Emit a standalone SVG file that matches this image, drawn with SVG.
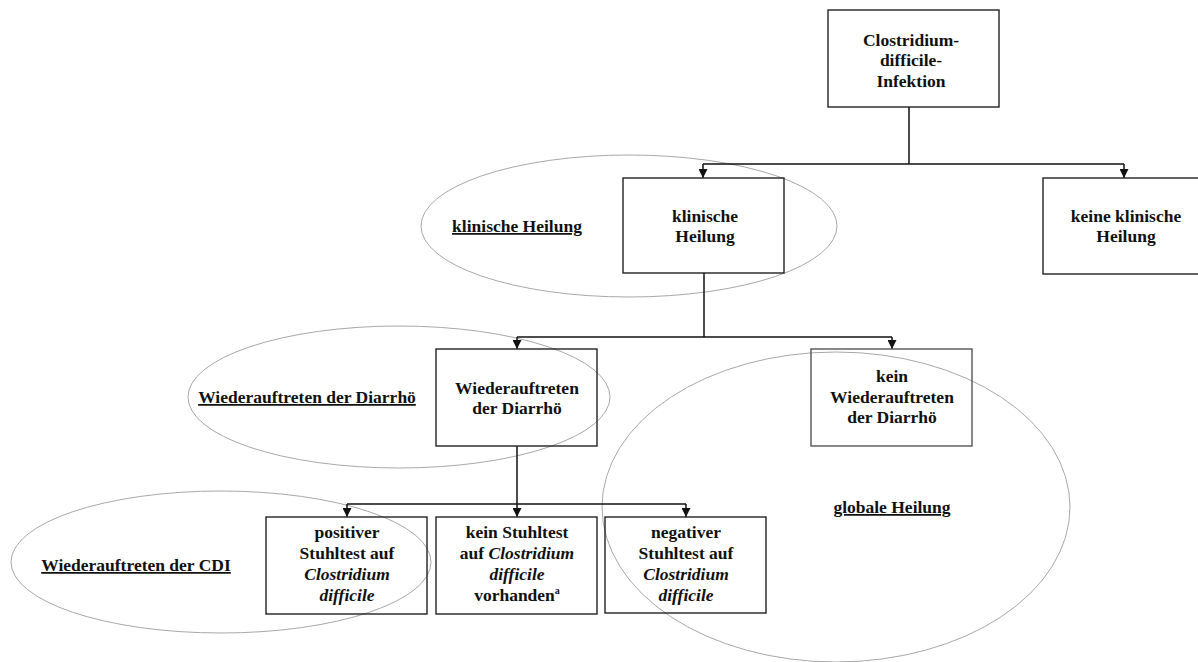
<svg xmlns="http://www.w3.org/2000/svg" width="1198" height="662" viewBox="0 0 1198 662">
<style>
.bg{fill:#fff}
.box{fill:none;stroke:#222;stroke-width:1.4}
.ell{fill:none;stroke:#a8a8a8;stroke-width:1}
.t{font-family:"Liberation Serif","Times New Roman",serif;font-size:17.5px;font-weight:bold;fill:#111;text-anchor:middle}
.u{text-decoration:underline}
.i{font-style:italic}
.con{fill:none;stroke:#111;stroke-width:1.5}
</style>
<defs>
<marker id="arr" viewBox="0 0 10 10" refX="10" refY="5" markerWidth="9" markerHeight="9" markerUnits="userSpaceOnUse" orient="auto">
<path d="M0,0 L10,5 L0,10 z" fill="#111"/>
</marker>
</defs>
<rect class="bg" x="0" y="0" width="1198" height="662"/>

<g id="ellipse-klinische-heilung">
<ellipse class="ell" cx="629" cy="226" rx="208" ry="71"/>
<text class="t u" x="517" y="232">klinische Heilung</text>
</g>
<g id="ellipse-wiederauftreten-diarrhoe">
<ellipse class="ell" cx="399" cy="397" rx="211" ry="71"/>
<text class="t u" x="307" y="403">Wiederauftreten der Diarrhö</text>
</g>
<g id="ellipse-wiederauftreten-cdi">
<ellipse class="ell" cx="221" cy="562" rx="210" ry="71"/>
<text class="t u" x="136" y="571">Wiederauftreten der CDI</text>
</g>
<g id="ellipse-globale-heilung">
<ellipse class="ell" cx="836" cy="507" rx="234" ry="155"/>
<text class="t u" x="892" y="513">globale Heilung</text>
</g>

<g id="connectors">
<path class="con" d="M909,107 V164"/>
<path class="con" d="M703,164 H1124"/>
<path class="con" d="M703,164 V178" marker-end="url(#arr)"/>
<path class="con" d="M1124,164 V178" marker-end="url(#arr)"/>
<path class="con" d="M704,273 V337"/>
<path class="con" d="M517,337 H892"/>
<path class="con" d="M517,337 V349" marker-end="url(#arr)"/>
<path class="con" d="M892,337 V349" marker-end="url(#arr)"/>
<path class="con" d="M517,446 V517" marker-end="url(#arr)"/>
<path class="con" d="M347,504 H686"/>
<path class="con" d="M347,504 V517" marker-end="url(#arr)"/>
<path class="con" d="M686,504 V517" marker-end="url(#arr)"/>
</g>

<g id="node-cdi">
<rect class="box" x="828" y="10" width="171" height="97"/>
<text class="t" x="911" y="46">Clostridium-</text>
<text class="t" x="911" y="66">difficile-</text>
<text class="t" x="911" y="87">Infektion</text>
</g>
<g id="node-klinische-heilung">
<rect class="box" x="623" y="178" width="161" height="95"/>
<text class="t" x="705" y="222">klinische</text>
<text class="t" x="705" y="242">Heilung</text>
</g>
<g id="node-keine-klinische-heilung">
<rect class="box" x="1043" y="178" width="162" height="96"/>
<text class="t" x="1126" y="222">keine klinische</text>
<text class="t" x="1126" y="242">Heilung</text>
</g>
<g id="node-wiederauftreten">
<rect class="box" x="436" y="349" width="161" height="97"/>
<text class="t" x="517" y="394">Wiederauftreten</text>
<text class="t" x="517" y="414">der Diarrhö</text>
</g>
<g id="node-kein-wiederauftreten">
<rect class="box" x="811" y="349" width="161" height="97" style="stroke:#555"/>
<text class="t" x="892" y="382">kein</text>
<text class="t" x="892" y="403">Wiederauftreten</text>
<text class="t" x="892" y="423">der Diarrhö</text>
</g>
<g id="node-positiver">
<rect class="box" x="266" y="517" width="161" height="97"/>
<text class="t" x="347" y="538">positiver</text>
<text class="t" x="347" y="559">Stuhltest auf</text>
<text class="t i" x="347" y="580">Clostridium</text>
<text class="t i" x="347" y="601">difficile</text>
</g>
<g id="node-kein-stuhltest">
<rect class="box" x="436" y="517" width="161" height="97"/>
<text class="t" x="517" y="538">kein Stuhltest</text>
<text class="t" x="517" y="559">auf <tspan class="i">Clostridium</tspan></text>
<text class="t i" x="517" y="580">difficile</text>
<text class="t" x="517" y="601">vorhanden<tspan font-size="10" dy="-7">a</tspan></text>
</g>
<g id="node-negativer">
<rect class="box" x="605" y="517" width="161" height="96"/>
<text class="t" x="686" y="538">negativer</text>
<text class="t" x="686" y="559">Stuhltest auf</text>
<text class="t i" x="686" y="580">Clostridium</text>
<text class="t i" x="686" y="601">difficile</text>
</g>
</svg>
